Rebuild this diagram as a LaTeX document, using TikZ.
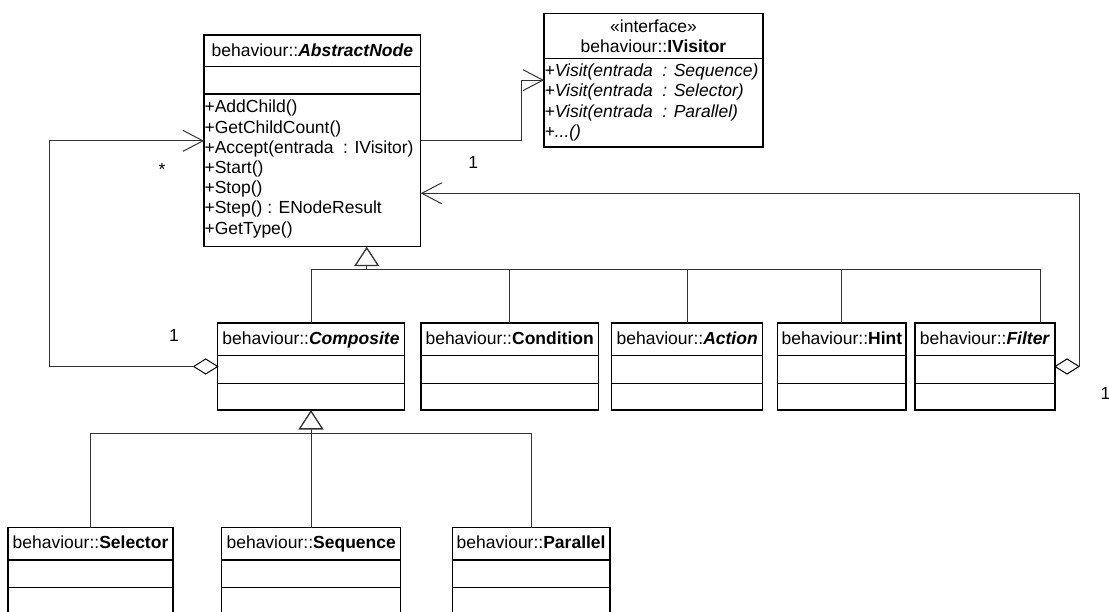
\documentclass[tikz,border=0pt]{standalone}
\usepackage{fontspec}
\setmainfont{Liberation Sans}
\usetikzlibrary{arrows.meta,shapes.geometric}

\tikzset{
  classbox/.style={rectangle, draw=black, line width=1.3pt, fill=white, inner sep=0pt, outer sep=0pt},
  sepline/.style={draw=black, line width=1.3pt},
  conn/.style={draw=black!80, line width=1pt},
  assoc/.style={-{Straight Barb[length=20pt,width=21pt]}},
  gen/.style={-{Triangle[open,length=19.5pt,width=25pt,line width=1.3pt]}},
  agg/.style={diamond, draw=black, line width=1pt, fill=white, minimum width=24pt, minimum height=15pt, inner sep=0pt, outer sep=0pt},
  txt/.style={font=\fontsize{17.5}{21}\selectfont, inner sep=0pt, outer sep=0pt},
}

% class box: name, left, top, right, first separator, second separator, bottom
\newcommand{\umlclass}[7]{%
  \node[classbox, anchor=north west, minimum width={#4-#2}, minimum height={#7-#3}] (#1) at (#2,#3) {};
  \draw[sepline] (#2,#5) -- (#4,#5);
  \draw[sepline] (#2,#6) -- (#4,#6);
}

\begin{document}
\begin{tikzpicture}[x=1pt,y=-1pt]
\useasboundingbox (0,0) rectangle (1109,612);
\clip (0,0) rectangle (1109,612);

% ---- classes ----
\umlclass{abs}{204}{35}{420.7}{66.7}{94}{246.7}
\node[txt, anchor=base] (abs-title) at (312.35,56.5) {behaviour::\textbf{\textit{AbstractNode}}};
\node[txt, anchor=base west] (abs-m1) at (204.6,113.0) {+AddChild()};
\node[txt, anchor=base west] (abs-m2) at (204.6,133.2) {+GetChildCount()};
\node[txt, anchor=base west] (abs-m3) at (204.6,153.4) {+Accept(entrada\ \ : IVisitor)};
\node[txt, anchor=base west] (abs-m4) at (204.6,173.6) {+Start()};
\node[txt, anchor=base west] (abs-m5) at (204.6,193.8) {+Stop()};
\node[txt, anchor=base west] (abs-m6) at (204.6,214.0) {+Step() : ENodeResult};
\node[txt, anchor=base west] (abs-m7) at (204.6,234.2) {+GetType()};

% interface
\node[classbox, anchor=north west, minimum width=219pt, minimum height=133.7pt] (iv) at (544,13.3) {};
\draw[sepline] (544,58.3) -- (763,58.3);
\node[txt, anchor=base] (iv-st) at (653.5,32.5) {«interface»};
\node[txt, anchor=base] (iv-title) at (653.5,53) {behaviour::\textbf{IVisitor}};
\node[txt, anchor=base west] (iv-m1) at (544.6,76.7) {\textit{+Visit(entrada\ \ : Sequence)}};
\node[txt, anchor=base west] (iv-m2) at (544.6,97.0) {\textit{+Visit(entrada\ \ : Selector)}};
\node[txt, anchor=base west] (iv-m3) at (544.6,117.3) {\textit{+Visit(entrada\ \ : Parallel)}};
\node[txt, anchor=base west] (iv-m4) at (544.6,137.6) {\textit{+...()}};

% second row
\umlclass{comp}{217.7}{323}{404.3}{355.5}{383.3}{410}
\node[txt, anchor=base] (comp-title) at (311,344.5) {behaviour::\textbf{\textit{Composite}}};
\umlclass{cond}{421}{323}{598.3}{355.5}{383.3}{410}
\node[txt, anchor=base] (cond-title) at (509.65,344.5) {behaviour::\textbf{Condition}};
\umlclass{act}{611.7}{323}{762.7}{355.5}{383.3}{410}
\node[txt, anchor=base] (act-title) at (687.2,344.5) {behaviour::\textbf{\textit{Action}}};
\umlclass{hint}{777.7}{323}{906}{355.5}{383.3}{410}
\node[txt, anchor=base] (hint-title) at (841.85,344.5) {behaviour::\textbf{Hint}};
\umlclass{filt}{915}{323}{1055}{355.5}{383.3}{410}
\node[txt, anchor=base] (filt-title) at (985,344.5) {behaviour::\textbf{\textit{Filter}}};

% third row
\umlclass{sel}{8}{527.7}{173}{560}{587.3}{620}
\node[txt, anchor=base] (sel-title) at (90.5,548.5) {behaviour::\textbf{Selector}};
\umlclass{seq}{221.7}{527.7}{400.7}{560}{587.3}{620}
\node[txt, anchor=base] (seq-title) at (311.2,548.5) {behaviour::\textbf{Sequence}};
\umlclass{par}{452.3}{527.7}{610}{560}{587.3}{620}
\node[txt, anchor=base] (par-title) at (531.15,548.5) {behaviour::\textbf{Parallel}};

% ---- generalisations ----
\coordinate (gen1) at ([xshift=54.35pt]abs.south);
\coordinate (bus1) at (366.7,269.3);
\draw[conn] (comp.north) |- (bus1);
\draw[conn] (cond.north) |- (bus1);
\draw[conn] (act.north) |- (bus1);
\draw[conn] (hint.north) |- (bus1);
\draw[conn] ([xshift=55.7pt]filt.north) |- (bus1);
\draw[conn, gen] (bus1) -- (gen1);

\coordinate (bus2) at (311,433.3);
\draw[conn] (sel.north) |- (bus2);
\draw[conn] (seq.north) |- (bus2);
\draw[conn] (par.north) |- (bus2);
\draw[conn, gen] (bus2) -- (comp.south);

% ---- associations ----
\draw[conn, assoc] (abs.east) -| ([xshift=-22.3pt]iv.west) -- (iv.west);

\node[agg, anchor=east] (comp-agg) at (comp.west) {};
\draw[conn, assoc] (comp-agg.west) -| ([xshift=-154.7pt]abs.west) -- (abs.west);

\node[agg, anchor=west] (filt-agg) at (filt.east) {};
\draw[conn, assoc] (filt-agg.east) |- ([yshift=-52.45pt]abs.east);

% ---- multiplicities ----
\node[txt, anchor=base] (mult-star) at (162,175.5) {*};
\node[txt, anchor=base] (mult-comp) at (174,341.7) {1};
\node[txt, anchor=base] (mult-iv) at (473.3,168.3) {1};
\node[txt, anchor=base] (mult-filt) at (1105.5,399.3) {1};
\end{tikzpicture}
\end{document}
